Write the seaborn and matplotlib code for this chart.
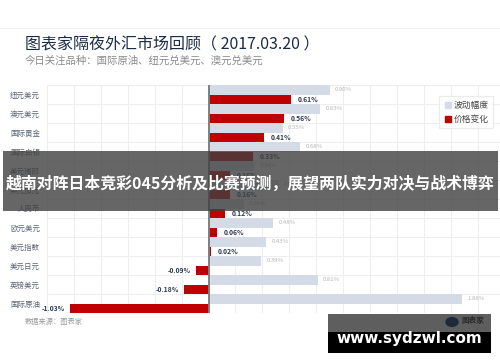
import numpy as np
import pandas as pd
import seaborn as sns
import matplotlib.pyplot as plt
from matplotlib.patches import Rectangle, Circle
from matplotlib.lines import Line2D

categories = ["纽元美元", "澳元美元", "国际黄金", "国际白银", "美元瑞郎", "美元加元",
              "人民币", "欧元美元", "美元指数", "美元日元", "英镑美元", "国际原油"]
volatility = [0.90, 0.83, 0.55, 0.68, 0.34, 0.52, 0.26, 0.48, 0.43, 0.39, 0.81, 1.88]
change = [0.61, 0.56, 0.41, 0.33, 0.16, 0.16, 0.12, 0.06, 0.02, -0.09, -0.18, -1.03]
series = ["波动幅度", "价格变化"]

GRAY = "#d5dbe6"
RED = "#c00000"

sns.set_style("white")
plt.rcParams["font.family"] = ["Noto Sans CJK SC", "DejaVu Sans"]

df = pd.DataFrame({
    "cat": categories * 2,
    "val": volatility + change,
    "series": [series[0]] * len(categories) + [series[1]] * len(categories),
})

W, H = 500, 362
fig = plt.figure(figsize=(W / 100, H / 100), dpi=100)
fig.patch.set_facecolor("white")

# plot area in pixel terms: x 47..500, y 85..313
ax = fig.add_axes([47 / W, 1 - 313 / H, 453 / W, 228 / H])
sns.barplot(data=df, x="val", y="cat", hue="series", hue_order=series,
            palette=[GRAY, RED], orient="h", width=0.96, ax=ax,
            legend=False, saturation=1, edgecolor="none")

ax.set_xlim(-1.2, 2.165)
ax.set_ylim(len(categories) - 0.5, -0.5)
ax.set_xticks(np.arange(-1.2, 2.2, 0.2))
ax.set_xticklabels([])
ax.tick_params(axis="x", length=0)
ax.set_yticks(range(len(categories)))
ax.set_yticklabels(categories, fontsize=5.4, color="#5d6677")
ax.tick_params(axis="y", length=0, pad=5)
ax.set_yticks(np.arange(-0.5, len(categories), 1), minor=True)
ax.grid(True, axis="x", color="#eeeeee", lw=0.8)
ax.grid(True, axis="y", which="minor", color="#eeeeee", lw=0.8)
ax.set_axisbelow(True)
for s in ax.spines.values():
    s.set_visible(False)
ax.axvline(0, color="#7f7f7f", lw=1.4, zorder=5)
ax.set_xlabel("")
ax.set_ylabel("")

off = 0.24
for i, (v, c) in enumerate(zip(volatility, change)):
    ax.text(v + 0.04, i - off, f"{v:.2f}%", va="center", ha="left",
            fontsize=4.3, color="#b5b5b5")
    if c >= 0:
        ax.text(c + 0.05, i + off, f"{c:.2f}%", va="center", ha="left",
                fontsize=4.9, color="#2d3a55", fontweight="bold")
    else:
        ax.text(c - 0.04, i + off, f"{c:.2f}%", va="center", ha="right",
                fontsize=4.9, color="#2d3a55", fontweight="bold")

# legend
handles = [Line2D([], [], marker="s", ls="", color=GRAY, markersize=5),
           Line2D([], [], marker="s", ls="", color=RED, markersize=5)]
leg = fig.legend(handles, series, loc="upper left",
                 bbox_to_anchor=(435 / W, 1 - 92 / H), fontsize=6.3,
                 frameon=True, handletextpad=0.1, borderpad=0.5,
                 labelspacing=0.6, handlelength=1.0)
leg.get_frame().set_edgecolor("#e6e6e6")
leg.get_frame().set_linewidth(0.8)
leg.get_frame().set_boxstyle("square", pad=0)
for t in leg.get_texts():
    t.set_color("#444444")

# header
fig.add_artist(Line2D([0, 1], [1 - 28 / H] * 2, color="#f0f0f0", lw=0.8))
fig.text(25 / W, 1 - 45 / H, "图表家隔夜外汇市场回顾（ 2017.03.20 ）",
         fontsize=11.5, color="#1c2b45", va="center", ha="left")
fig.text(25 / W, 1 - 61 / H, "今日关注品种：国际原油、纽元兑美元、澳元兑美元",
         fontsize=7.5, color="#8a8a8a", va="center", ha="left")
fig.text(25 / W, 1 - 322 / H, "数据来源：图表家", fontsize=5.2,
         color="#9a9a9a", va="center", ha="left")

# banner overlay
fig.add_artist(Rectangle((3 / W, 1 - 211 / H), 495 / W, 60 / H,
                         transform=fig.transFigure, color="#404040",
                         alpha=0.8, zorder=20, lw=0))
fig.text(250 / W, 1 - 184 / H,
         "越南对阵日本竞彩045分析及比赛预测，展望两队实力对决与战术博弈",
         fontsize=11.45, color="white", fontweight="bold",
         va="center", ha="center", zorder=21)

# watermark
fig.add_artist(Rectangle((328 / W, 1 - 332 / H), 163 / W, 18 / H,
                         transform=fig.transFigure, color="#5e5e5e",
                         zorder=20, lw=0))
fig.add_artist(Rectangle((328 / W, 1 - 353 / H), 163 / W, 21 / H,
                         transform=fig.transFigure, color="black",
                         zorder=20, lw=0))
fig.add_artist(Circle((452 / W, 1 - 322 / H), 6 / W,
                      transform=fig.transFigure, color="#1e2a3a", zorder=21))
fig.text(462 / W, 1 - 321 / H, "图表家", fontsize=5.5, color="#2a2a2a",
         fontweight="bold", va="center", ha="left", zorder=21)
fig.text(409 / W, 1 - 338 / H, "www.sydzwl.com", fontsize=11,
         color="white", fontweight="bold", va="center", ha="center", zorder=21,
         family="DejaVu Sans")

fig.savefig("out.png", dpi=100)
